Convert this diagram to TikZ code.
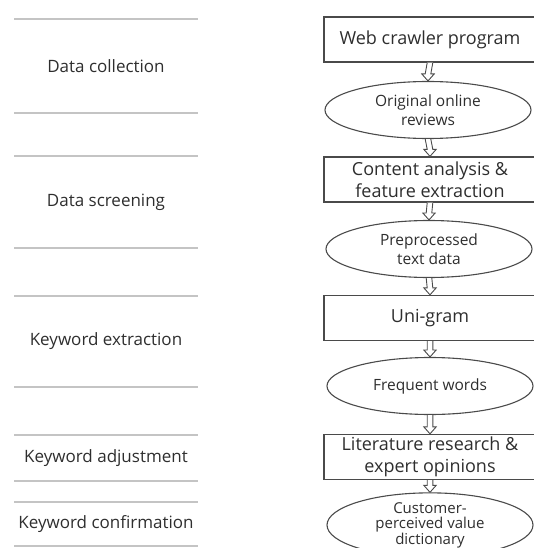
\documentclass[tikz,border=0pt]{standalone}
\usepackage{fontspec}
\setmainfont{Open Sans}
\usetikzlibrary{shapes.geometric,calc,positioning}
\definecolor{inkgray}{HTML}{2E2E2E}
\definecolor{rulegray}{HTML}{C4C4C4}
\definecolor{edgegray}{HTML}{4A4A4A}

% hollow block arrow from the bottom of #1 to the top of #2
\newcommand{\hollowarrow}[2]{%
  \draw[hollow] ($(#1.south)+(-2.8,0)$) -- ($(#2.north)+(-2.8,-7)$) -- ($(#2.north)+(-6.2,-7)$)
    -- (#2.north) -- ($(#2.north)+(6.2,-7)$) -- ($(#2.north)+(2.8,-7)$) -- ($(#1.south)+(2.8,0)$);}

\begin{document}
\begin{tikzpicture}[
            x=1pt, y=-1pt,
            stepbox/.style={rectangle, draw=edgegray, line width=1.3pt, text=inkgray, inner sep=0pt, minimum width=212pt, minimum height=45pt, align=center, font=\fontsize{18}{22}\selectfont},
            stepdata/.style={ellipse, draw=edgegray, line width=1.1pt, text=inkgray, inner sep=0pt, minimum width=206pt, minimum height=57pt, align=center, font=\fontsize{15.5}{19}\selectfont},
            phase/.style={text=inkgray, font=\fontsize{17}{20}\selectfont},
            band/.style={rulegray, line width=1.6pt},
            hollow/.style={draw=edgegray, line width=0.9pt, fill=white, line join=miter}
        ]
            \useasboundingbox (0,0) rectangle (534,548);

            % Phases on the left, each between two grey rules
            \draw[band] (14,19) -- (198,19);
            \draw[band] (14,113) -- (198,113);
            \node[phase] (collection) at (106,66) {Data collection};

            \draw[band] (14,156) -- (198,156);
            \draw[band] (14,248) -- (198,248);
            \node[phase] (screening) at (106,202) {Data screening};

            \draw[band] (14,296) -- (198,296);
            \draw[band] (14,387) -- (198,387);
            \node[phase] (extraction) at (106,341) {Keyword extraction};

            \draw[band] (14,435) -- (198,435);
            \draw[band] (14,481) -- (198,481);
            \node[phase] (adjustment) at (106,458) {Keyword adjustment};

            \draw[band] (14,502) -- (198,502);
            \draw[band] (14,546) -- (198,546);
            \node[phase] (confirmation) at (106,524) {Keyword confirmation};

            % Process chain on the right
            \node[stepbox] (crawler) at (430,39.5) {Web crawler program};
            \node[stepdata] (reviews) at (428,110) {Original online\\reviews};
            \node[stepbox] (content) at (430,179.5) {Content analysis \&\\feature extraction};
            \node[stepdata] (preproc) at (429,249) {Preprocessed\\text data};
            \node[stepbox] (unigram) at (430,318) {Uni-gram};
            \node[stepdata] (frequent) at (430,386) {Frequent words};
            \node[stepbox] (literature) at (430,457) {Literature research \&\\expert opinions};
            \node[stepdata, font=\fontsize{15}{15.5}\selectfont] (dictionary) at (430,525) {Customer-\\perceived value\\dictionary};

            % Hollow arrows
            \hollowarrow{crawler}{reviews}
            \hollowarrow{reviews}{content}
            \hollowarrow{content}{preproc}
            \hollowarrow{preproc}{unigram}
            \hollowarrow{unigram}{frequent}
            \hollowarrow{frequent}{literature}
            \hollowarrow{literature}{dictionary}

        \end{tikzpicture}
\end{document}
